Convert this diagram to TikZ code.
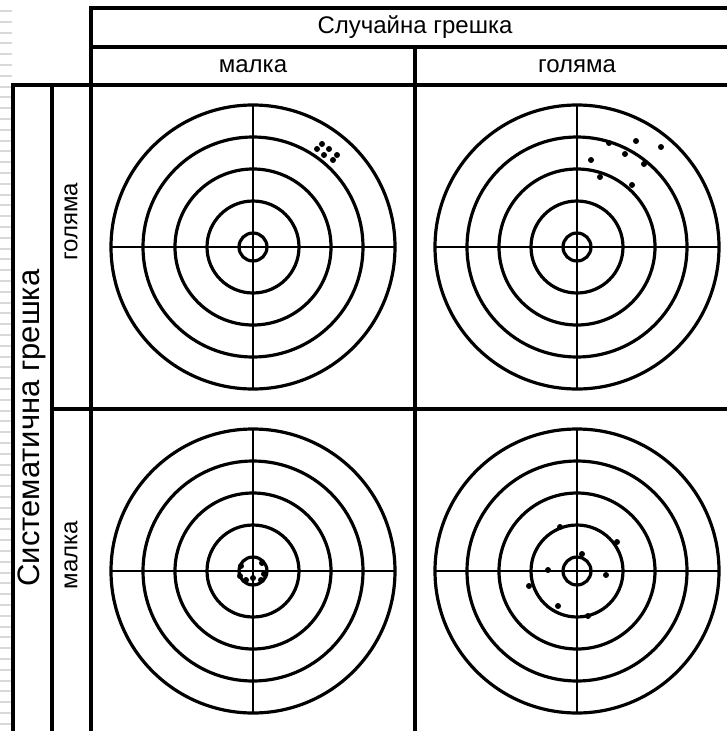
\documentclass[tikz,border=0pt]{standalone}
\usepackage{fontspec}
\setmainfont{Liberation Sans}

\begin{document}
\begin{tikzpicture}
[x=1pt,y=-1pt,
grid/.style={line width=3.6pt},
ring/.style={line width=3.2pt},
cross/.style={line width=2.2pt},
shot/.style={fill=black},
txt/.style={font=\fontsize{24}{28}\selectfont, inner sep=0pt},
bigtxt/.style={font=\fontsize{31}{35}\selectfont, inner sep=0pt}]
\useasboundingbox (0,0) rectangle (727,731);
% faint stripes on the left margin
\foreach \y in {11,21.8,...,731}
\draw[gray!30,line width=2pt] (0,\y) -- (12,\y);
% table
\draw[grid] (91,731) -- (91,8) -- (727,8);
\draw[grid] (91,47) -- (727,47);
\draw[grid] (13,731) -- (13,85) -- (727,85);
\draw[grid] (52,731) -- (52,85);
\draw[grid] (52,409) -- (727,409);
\draw[grid] (415,47) -- (415,731);
% headers
\node[txt] (rand) at (415,27) {Случайна грешка};
\node[txt] (randsmall) at (253,66) {малка};
\node[txt] (randbig) at (577,66) {голяма};
\node[bigtxt,rotate=90] (sys) at (32,428) {Систематична грешка};
\node[txt,rotate=90] (sysbig) at (71,222) {голяма};
\node[txt,rotate=90] (syssmall) at (71,555) {малка};
% targets
\foreach \cx/\cy in {253/247,577/247,253/571,577/571}{
\foreach \r in {14,46,78,110,142}
\draw[ring] (\cx,\cy) circle (\r pt);
\draw[cross] (\cx-142,\cy) -- (\cx+142,\cy);
\draw[cross] (\cx,\cy-142) -- (\cx,\cy+142);
}
% shots
\foreach \sx/\sy in {322/144,317/149,329/149,324/155,337/155,333/160,
636/141,661/147,609/143,625/154,591/160,644/164,600/177,632/185,
241/566,240/576,246/580,253/578,261/580,264/574,262/563,
560/527,617/542,582/554,548/570,606/575,529/586,558/606,588/616}
\fill[shot] (\sx,\sy) circle (3pt);
\end{tikzpicture}
\end{document}
